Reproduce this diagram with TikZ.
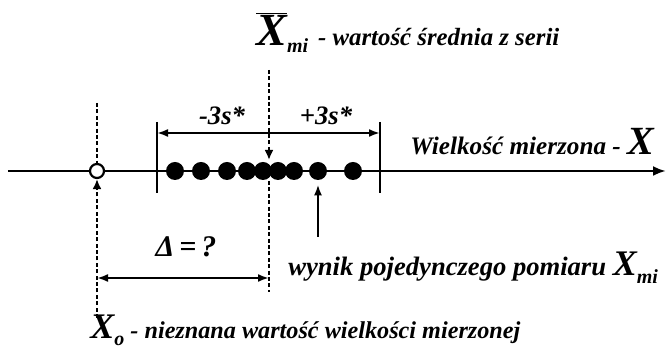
\documentclass[tikz,border=0pt]{standalone}
\usepackage{fontspec}
\setmainfont{Liberation Serif}
\usetikzlibrary{arrows.meta,positioning}
\definecolor{ink}{HTML}{000000}
\definecolor{paper}{HTML}{FFFFFF}
\newcommand{\subidx}[1]{\raisebox{-0.6ex}{\fontsize{10}{10}\selectfont #1}}
\tikzset{
  axisline/.style={-{Latex[length=6.5pt,width=5pt]},line width=1.3pt,color=ink},
  guideline/.style={dash pattern=on 2pt off 1.2pt,line width=1.1pt,color=ink},
  guidearr/.style={guideline,-{Latex[length=5pt,width=4.5pt]}},
  tickline/.style={line width=1.1pt,color=ink},
  dimarr/.style={{Latex[length=5.5pt,width=4pt]}-{Latex[length=5.5pt,width=4pt]},line width=1pt,color=ink},
  ptarr/.style={-{Latex[length=5.5pt,width=4pt]},line width=1.1pt,color=ink},
  measdot/.style={circle,fill=ink,inner sep=0pt,minimum size=9pt},
  truedot/.style={circle,draw=ink,fill=paper,line width=1.1pt,inner sep=0pt,minimum size=7pt},
  lbl/.style={font=\fontsize{13.3}{15}\selectfont\bfseries\itshape,inner sep=0pt,text=ink}
}

\begin{document}
\begin{tikzpicture}[x=0.5pt,y=-0.5pt,>=Latex]
  \useasboundingbox (0,0) rectangle (666,351);
  % axis
  \coordinate (ax0) at (8,171);
  \coordinate (ax1) at (666,171);
  \draw[axisline] (ax0) -- (ax1);

  % -3s* / +3s* limits
  \coordinate (tl1) at (157,122); \coordinate (tl2) at (157,193);
  \coordinate (tr1) at (380,122); \coordinate (tr2) at (380,193);
  \draw[tickline] (tl1) -- (tl2);
  \draw[tickline] (tr1) -- (tr2);
  \coordinate (dl) at (157,133); \coordinate (dr) at (380,133);
  \draw[dimarr] (dl) -- (dr);
  \node[lbl] (minus) at (222,116) {-3s*};
  \node[lbl] (plus) at (326,116) {+3s*};

  % single results
  \foreach \px [count=\i] in {175,201,227,247,263,278,294,318,353}
    \node[measdot] (m\i) at (\px,171) {};

  % unknown true value
  \node[truedot] (x0) at (97,171) {};
  \coordinate (x0top) at (97,103); \coordinate (x0bot) at (97,318);
  \draw[guideline] (x0top) -- (x0.north);
  \draw[guidearr] (x0bot) -- (x0.south);

  % mean of the series
  \coordinate (mtop) at (269,70); \coordinate (mtip) at (269,160);
  \draw[guidearr] (mtop) -- (mtip);
  \coordinate (mb1) at (269,181); \coordinate (mb2) at (269,292);
  \draw[guideline] (mb1) -- (mb2);

  % error
  \coordinate (eA) at (97,278); \coordinate (eB) at (269,278);
  \draw[dimarr] (eA) -- (eB);
  \node[lbl,font=\fontsize{15}{17}\selectfont\bfseries\itshape] (delta) at (186,247) {Δ\,=\,?};

  \coordinate (sp) at (318,237);
  \draw[ptarr,shorten >=2pt] (sp) -- (m8.south);

  % labels
  \node[lbl,font=\fontsize{12.4}{14}\selectfont\bfseries\itshape,anchor=base west] (mean) at (256,46)
    {{\fontsize{23}{25}\selectfont$\overline{\mbox{X}}$}\subidx{mi}\hspace{5pt}- wartość średnia z serii};
  \node[lbl,font=\fontsize{12.6}{14}\selectfont\bfseries\itshape,anchor=base west] (axlbl) at (410,155)
    {Wielkość mierzona - {\fontsize{20}{22}\selectfont X}};
  \node[lbl,anchor=base west] (wynik) at (288,276)
    {wynik pojedynczego pomiaru {\fontsize{18}{20}\selectfont X}\subidx{mi}};
  \node[lbl,font=\fontsize{12.1}{14}\selectfont\bfseries\itshape,anchor=base west] (x0lbl) at (90,339)
    {{\fontsize{18}{20}\selectfont X}\subidx{o} - nieznana wartość wielkości mierzonej};
\end{tikzpicture}
\end{document}
